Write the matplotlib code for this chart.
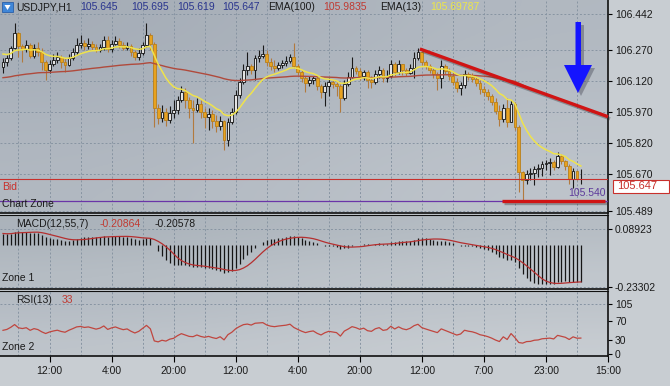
import numpy as np
import pandas as pd
import matplotlib
matplotlib.use("Agg")
import matplotlib.pyplot as plt
from matplotlib.patches import Rectangle, Polygon
from matplotlib.colors import LinearSegmentedColormap
import matplotlib.patheffects as pe

plt.rcParams['font.family'] = ['Liberation Sans', 'DejaVu Sans']

# ---- hourly USDJPY candles ----
first_open = 106.187
closes = [
    106.211, 106.230, 106.278, 106.351, 106.288, 106.273, 106.293, 106.240, 106.278, 106.259,
    106.211, 106.172, 106.201, 106.220, 106.235, 106.211, 106.196, 106.230, 106.259, 106.293,
    106.302, 106.288, 106.297, 106.283, 106.268, 106.283, 106.317, 106.273, 106.297, 106.312,
    106.293, 106.278, 106.288, 106.259, 106.235, 106.254, 106.293, 106.341, 106.297, 105.988,
    105.940, 105.969, 105.930, 105.964, 105.979, 106.027, 106.066, 106.027, 105.988, 105.979,
    106.008, 105.969, 105.945, 105.959, 105.926, 105.901, 105.926, 105.834, 105.921, 105.969,
    106.051, 106.114, 106.172, 106.191, 106.172, 106.230, 106.240, 106.249, 106.211, 106.191,
    106.182, 106.196, 106.206, 106.215, 106.235, 106.191, 106.162, 106.133, 106.109, 106.124,
    106.133, 106.095, 106.066, 106.095, 106.114, 106.104, 106.095, 106.037, 106.104, 106.138,
    106.182, 106.167, 106.143, 106.162, 106.124, 106.114, 106.153, 106.172, 106.133, 106.143,
    106.201, 106.162, 106.201, 106.172, 106.158, 106.182, 106.230, 106.259, 106.211, 106.191,
    106.172, 106.153, 106.133, 106.191, 106.167, 106.143, 106.114, 106.085, 106.099, 106.153,
    106.138, 106.128, 106.109, 106.080, 106.066, 106.046, 106.017, 105.974, 105.935, 105.988,
    105.921, 106.008, 105.897, 105.679, 105.641, 105.670, 105.674, 105.694, 105.699, 105.718,
    105.723, 105.728, 105.704, 105.757, 105.732, 105.708, 105.645, 105.684, 105.645, 105.647,
]
highs = [
    106.230, 106.244, 106.288, 106.399, 106.355, 106.297, 106.317, 106.302, 106.297, 106.307,
    106.278, 106.220, 106.220, 106.249, 106.259, 106.244, 106.230, 106.249, 106.278, 106.326,
    106.341, 106.317, 106.326, 106.312, 106.297, 106.297, 106.336, 106.336, 106.317, 106.336,
    106.326, 106.307, 106.307, 106.297, 106.268, 106.278, 106.307, 106.399, 106.351, 106.307,
    106.008, 106.003, 105.988, 105.998, 106.027, 106.046, 106.095, 106.085, 106.042, 106.027,
    106.037, 106.027, 105.988, 105.988, 105.979, 105.955, 105.950, 105.930, 105.940, 105.988,
    106.075, 106.133, 106.201, 106.259, 106.201, 106.244, 106.268, 106.293, 106.268, 106.230,
    106.220, 106.211, 106.220, 106.240, 106.249, 106.302, 106.201, 106.172, 106.143, 106.143,
    106.143, 106.143, 106.104, 106.114, 106.133, 106.124, 106.114, 106.104, 106.124, 106.162,
    106.235, 106.191, 106.182, 106.172, 106.172, 106.143, 106.172, 106.191, 106.182, 106.172,
    106.220, 106.211, 106.220, 106.191, 106.182, 106.201, 106.259, 106.278, 106.259, 106.220,
    106.201, 106.182, 106.162, 106.220, 106.201, 106.182, 106.162, 106.133, 106.114, 106.172,
    106.162, 106.158, 106.143, 106.124, 106.095, 106.080, 106.056, 106.037, 106.003, 106.008,
    106.037, 106.027, 106.017, 105.906, 105.684, 105.689, 105.699, 105.708, 105.718, 105.732,
    105.737, 105.747, 105.737, 105.776, 105.766, 105.737, 105.718, 105.699, 105.690, 105.695,
]
lows = [
    106.158, 106.191, 106.220, 106.273, 106.235, 106.211, 106.259, 106.230, 106.230, 106.240,
    106.172, 106.124, 106.158, 106.191, 106.206, 106.182, 106.162, 106.191, 106.220, 106.244,
    106.278, 106.268, 106.273, 106.268, 106.259, 106.259, 106.268, 106.259, 106.259, 106.293,
    106.278, 106.268, 106.268, 106.240, 106.220, 106.220, 106.244, 106.283, 106.268, 105.897,
    105.911, 105.921, 105.901, 105.916, 105.940, 105.959, 106.017, 105.988, 105.940, 105.819,
    105.969, 105.940, 105.892, 105.882, 105.892, 105.872, 105.882, 105.785, 105.805, 105.911,
    105.959, 106.037, 106.104, 106.148, 106.153, 106.124, 106.211, 106.230, 106.191, 106.172,
    106.162, 106.172, 106.182, 106.191, 106.206, 106.182, 106.148, 106.114, 106.066, 106.095,
    106.104, 106.075, 106.037, 105.998, 106.046, 106.085, 106.046, 105.969, 106.027, 106.095,
    106.133, 106.153, 106.124, 106.124, 106.085, 106.085, 106.104, 106.133, 106.114, 106.114,
    106.133, 106.143, 106.153, 106.148, 106.143, 106.153, 106.133, 106.220, 106.196, 106.177,
    106.158, 106.133, 106.075, 106.085, 106.153, 106.124, 106.099, 106.066, 106.051, 106.085,
    106.124, 106.114, 106.095, 106.056, 106.046, 106.027, 106.003, 105.959, 105.901, 105.921,
    105.897, 105.921, 105.882, 105.583, 105.544, 105.621, 105.641, 105.616, 105.655, 105.660,
    105.689, 105.665, 105.689, 105.699, 105.718, 105.689, 105.621, 105.602, 105.638, 105.619,
]

# indicator starting values (state before the first visible bar)
ema13_seed, ema100_seed = 106.255, 106.133
ema12_seed, ema55_seed = 106.24, 106.17
rsi_gain_seed, rsi_loss_seed = 0.020, 0.022

x_labels = ["12:00", "4:00", "20:00", "12:00", "4:00", "20:00", "12:00", "7:00", "23:00", "15:00"]
price_ticks = [106.442, 106.270, 106.120, 105.970, 105.820, 105.670, 105.489]
macd_ticks = [0.08923, -0.23302]
rsi_ticks = [105, 70, 30, 0]

bid_price = 105.647
zone_price = 105.540
trend_x, trend_y = [107.5, 156.0], [106.273, 105.946]
support_x, support_y = [128.7, 155.2], [105.537, 105.537]

# ---- derived series ----
closes = np.array(closes)
opens = np.concatenate([[first_open], closes[:-1]])
highs = np.maximum.reduce([np.array(highs), opens, closes])
lows = np.minimum.reduce([np.array(lows), opens, closes])
idx = np.arange(len(closes))


def ema(values, span, seed):
    s = pd.Series(np.concatenate([[seed], values]))
    return s.ewm(span=span, adjust=False).mean().to_numpy()[1:]


ema13 = ema(closes, 13, ema13_seed)
ema100 = ema(closes, 100, ema100_seed)
macd = ema(closes, 12, ema12_seed) - ema(closes, 55, ema55_seed)
signal = pd.Series(macd).rolling(7, min_periods=1).mean().to_numpy()

diff = np.diff(np.concatenate([[first_open], closes]))
g, l = rsi_gain_seed, rsi_loss_seed
rsi = []
for d in diff:
    g = (g * 12 + max(d, 0)) / 13
    l = (l * 12 + max(-d, 0)) / 13
    rsi.append(100 - 100 / (1 + g / l))
rsi = np.array(rsi)

# ---- figure ----
W, H = 670, 386
fig = plt.figure(figsize=(6.7, 3.86), dpi=100)
fig.patch.set_facecolor('#c8cdd2')


def panel(top, bottom, c0, c1):
    a = fig.add_axes([0, 1 - bottom / H, 608 / W, (bottom - top) / H])
    cmap = LinearSegmentedColormap.from_list('bg', [c0, c1])
    grad = np.array([[0.0, 0.5], [0.5, 1.0]])
    a.imshow(grad, extent=(0, 1, 0, 1), transform=a.transAxes, cmap=cmap,
             aspect='auto', interpolation='bicubic', zorder=0)
    for s in ['left', 'top']:
        a.spines[s].set_visible(False)
    for s in ['right', 'bottom']:
        a.spines[s].set_color('#101010')
        a.spines[s].set_linewidth(1.2)
    a.yaxis.tick_right()
    a.tick_params(axis='y', direction='out', length=3, width=0.8, pad=2,
                  labelsize=7.5, labelcolor='#1a1a1a')
    a.tick_params(axis='x', bottom=False, labelbottom=False)
    return a


def ftext(x, y, s, color='#1a1a1a', size=7.5, **kw):
    fig.text(x / W, 1 - y / H, s, color=color, fontsize=size, va='center', ha='left', **kw)


grid_x = np.arange(4, 157, 8)
grid_kw = dict(color='#8794a2', lw=0.7, ls=(0, (2, 2)), zorder=1)

ax = panel(0, 213, '#a4acb6', '#bfc5cc')
axm = panel(215, 289, '#aab2ba', '#c2c8ce')
axr = panel(291, 356, '#b4bbc3', '#c8cdd2')
axm.spines['top'].set_visible(True)
axm.spines['top'].set_color('#101010')
axr.spines['top'].set_visible(True)
axr.spines['top'].set_color('#101010')

for a in (ax, axm, axr):
    for gx in grid_x:
        a.axvline(gx, **grid_kw)
    a.set_xlim(-0.77, 156)

# main price panel
for p in price_ticks:
    ax.axhline(p, **grid_kw)
bull = closes >= opens
wick_col = np.where(bull, '#1a1a1a', '#b27a3e')
ax.vlines(idx, lows, highs, colors=wick_col, lw=0.8, zorder=3)
body_h = np.maximum(np.abs(closes - opens), 0.0015)
body_b = np.minimum(opens, closes)
ax.bar(idx[bull], body_h[bull], bottom=body_b[bull], width=0.72,
       color='#e4e4e4', edgecolor='#111111', linewidth=0.6, zorder=4)
ax.bar(idx[~bull], body_h[~bull], bottom=body_b[~bull], width=0.72,
       color='#e8a21f', edgecolor='#b8801c', linewidth=0.6, zorder=4)
ax.plot(idx, ema100, color='#b04a3c', lw=1.0, zorder=5)
ax.plot(idx, ema13, color='#efe34c', lw=1.1, zorder=5)
ax.axhline(bid_price, color='#c8302c', lw=0.8, zorder=5)
ax.axhline(zone_price, color='#6a35a8', lw=0.9, zorder=5)

shadow = [pe.SimpleLineShadow(offset=(1.5, -1.5), shadow_color='#303030', alpha=0.35), pe.Normal()]
ax.plot(trend_x, trend_y, color='#d01414', lw=2.4, solid_capstyle='butt',
        path_effects=shadow, zorder=6, clip_on=False)
ax.plot(support_x, support_y, color='#d01414', lw=2.4, solid_capstyle='butt',
        path_effects=shadow, zorder=6)

# blue arrow, shape given in panel pixels
arrow_px = [(575.5, 22), (581, 22), (581, 65), (592, 65), (578, 93), (564, 65), (575.5, 65)]
for off, col, al in [((3, 3), '#303040', 0.35), ((0, 0), '#1414ff', 1.0)]:
    pts = [((px + off[0]) / 608, 1 - (py + off[1]) / 213) for px, py in arrow_px]
    ax.add_patch(Polygon(pts, closed=True, transform=ax.transAxes, fc=col,
                         ec='none', alpha=al, zorder=7))

ax.set_ylim(105.481, 106.5096)
ax.set_yticks(price_ticks)
ax.set_yticklabels([f"{p:.3f}" for p in price_ticks])

# MACD panel
for p in macd_ticks:
    axm.axhline(p, **grid_kw)
axm.vlines(idx, 0, macd, colors='#151515', lw=0.9, zorder=3)
axm.plot(idx, signal, color='#b52f2f', lw=0.9, zorder=4)
axm.set_ylim(-0.2459, 0.1674)
axm.set_yticks(macd_ticks)
axm.set_yticklabels([f"{p:.5f}" for p in macd_ticks])

# RSI panel
axr.axhline(105, **grid_kw)
axr.plot(idx, rsi, color='#c0463f', lw=0.9, zorder=4)
axr.set_ylim(-4.2, 133)
axr.set_yticks(rsi_ticks)
axr.set_yticklabels([str(t) for t in rsi_ticks])
axr.tick_params(axis='x', bottom=True, labelbottom=True, direction='out', length=4,
                width=0.8, pad=3, labelsize=7.5, labelcolor='#1a1a1a')
axr.set_xticks(grid_x[1::2])
axr.set_xticklabels(x_labels)

# header texts
fig.add_artist(Rectangle((2 / W, 1 - 12 / H), 11 / W, 10 / H, transform=fig.transFigure,
                         fc='#3f86d8', ec='#2a5fa8', lw=0.6))
fig.add_artist(Polygon([(4.5 / W, 1 - 5 / H), (10.5 / W, 1 - 5 / H), (7.5 / W, 1 - 10 / H)],
                       closed=True, transform=fig.transFigure, fc='white', ec='none'))
ftext(16, 7, "USDJPY,H1")
for xx, s in zip([80, 131, 177, 222], ["105.645", "105.695", "105.619", "105.647"]):
    ftext(xx, 7, s, color='#2a358e')
ftext(268, 7, "EMA(100)")
ftext(323, 7, "105.9835", color='#c03a32')
ftext(380, 7, "EMA(13)")
ftext(430, 7, "105.69787", color='#ece64a')

ftext(2, 187, "Bid", color='#c8302c')
ftext(2, 204, "Chart Zone")
ftext(568, 193, "105.540", color='#5d3a9b')
fig.add_artist(Rectangle((613 / W, 1 - 193 / H), 56 / W, 13 / H, transform=fig.transFigure,
                         fc='white', ec='#c8302c', lw=0.8))
ftext(617, 186.5, "105.647", color='#c8302c', size=8)

ftext(16, 224, "MACD(12,55,7)")
ftext(100, 224, "-0.20864", color='#c03a32')
ftext(155, 224, "-0.20578")
ftext(2, 278, "Zone 1")

ftext(16, 300, "RSI(13)")
ftext(62, 300, "33", color='#c03a32')
ftext(2, 347, "Zone 2")

fig.savefig("out.png", dpi=100, facecolor=fig.get_facecolor())
